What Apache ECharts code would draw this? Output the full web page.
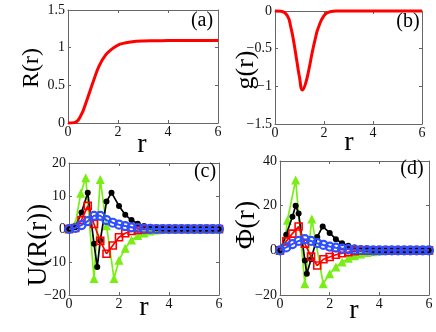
<!DOCTYPE html>
<html>
<head>
<meta charset="utf-8">
<script src="https://cdn.jsdelivr.net/npm/echarts@6/dist/echarts.min.js"></script>
<style>
  html, body { margin: 0; padding: 0; background: #fff; }
  #chart { width: 436px; height: 332px; }
</style>
</head>
<body>
<div id="chart"></div>
<script>
// r sampling used by the marker curves
const rGrid = [0, 0.25, 0.5, 0.75, 1, 1.25, 1.5, 1.75, 2, 2.25, 2.5, 2.75, 3,
  3.25, 3.5, 3.75, 4, 4.25, 4.5, 4.75, 5, 5.25, 5.5, 5.75, 6];

// (a) R(r)
const aR = [0, 0.25, 0.5, 0.75, 1, 1.25, 1.5, 1.75, 2, 2.25, 2.5, 3, 3.5, 4, 5, 6];
const aVal = [0, 0.005, 0.09, 0.3, 0.54, 0.76, 0.9, 0.98, 1.035, 1.06, 1.075, 1.088, 1.092, 1.094, 1.095, 1.095];

// (b) g(r)
const bR = [0, 0.25, 0.5, 0.65, 0.75, 0.9, 1, 1.12, 1.25, 1.4, 1.5, 1.65, 1.75, 2, 2.25, 2.5, 3, 4, 5, 6];
const bVal = [0, -0.003, -0.06, -0.22, -0.38, -0.68, -0.88, -1.05, -0.96, -0.75, -0.58, -0.36, -0.24, -0.06, -0.01, 0, 0, 0, 0, 0];

// (c) U(R(r))
const cBlackR = [0, 0.25, 0.5, 0.75, 1, 1.13, 1.25, 1.5, 1.7, 2, 2.25, 2.5, 2.75, 3, 3.25, 3.5, 3.75,
  4, 4.25, 4.5, 4.75, 5, 5.25, 5.5, 5.75, 6];
const cBlackVal = [0, 0.5, 5, 11, -4.5, -11.5, -3.5, 8.3, 11, 7, 4.3, 2.7, 1.6, 0.9, 0.5, 0.2, 0.1,
  0, 0, 0, 0, 0, 0, 0, 0, 0];
const cGreenR = [0, 0.25, 0.47, 0.67, 1, 1.25, 1.5, 1.8, 2, 2.25, 2.5, 2.75, 3, 3.25, 3.5, 3.75,
  4, 4.25, 4.5, 4.75, 5, 5.25, 5.5, 5.75, 6];
const cGreenVal = [0, 1.5, 10.8, 15.5, -15, 15, 1, -15, -9.5, -5.8, -3.3, -2, -1.2, -0.6, -0.3, -0.1,
  0, 0, 0, 0, 0, 0, 0, 0, 0];
const cRedVal = [0, 0.3, 2.7, 7, 1.5, -3.6, -7.5, -5, -2.5, -1.3, -0.6, -0.3, -0.1,
  0, 0, 0, 0, 0, 0, 0, 0, 0, 0, 0, 0];
const cBlueVal = [0, 0.3, 1.2, 2.4, 4, 4, 2.7, 1.9, 1.3, 0.9, 0.5, 0.3, 0.15,
  0.05, 0, 0, 0, 0, 0, 0, 0, 0, 0, 0, 0];

// (d) Phi(r)
const dBlackR = [0, 0.25, 0.5, 0.63, 0.75, 1, 1.08, 1.25, 1.5, 1.72, 2, 2.25, 2.5, 2.75, 3, 3.25, 3.5, 3.75,
  4, 4.25, 4.5, 4.75, 5, 5.25, 5.5, 5.75, 6];
const dBlackVal = [0, 7, 15, 20, 16.5, -4.5, -10.5, -4, 6, 10.7, 7.8, 5, 3.2, 2, 1.3, 0.8, 0.4, 0.2,
  0.1, 0, 0, 0, 0, 0, 0, 0, 0];
const dGreenR = [0, 0.2, 0.3, 0.63, 1, 1.28, 1.74, 2, 2.25, 2.5, 2.75, 3, 3.25, 3.5, 3.75,
  4, 4.25, 4.5, 4.75, 5, 5.25, 5.5, 5.75, 6];
const dGreenVal = [0, 4, 13.5, 31.5, -15, 14, -15, -10.5, -7.5, -5.2, -3.6, -2.4, -1.6, -1, -0.6,
  -0.3, -0.1, 0, 0, 0, 0, 0, 0, 0];
const dRedVal = [0, 4, 7.5, 10.7, 3, -2.8, -6.8, -4, -3, -2, -1.3, -0.8, -0.4,
  -0.2, -0.1, 0, 0, 0, 0, 0, 0, 0, 0, 0, 0];
const dBlueVal = [0, 1.3, 2.8, 4.2, 5, 4.2, 3.2, 2.4, 1.7, 1.2, 0.8, 0.5, 0.3,
  0.15, 0.05, 0, 0, 0, 0, 0, 0, 0, 0, 0, 0];

const RED = "#ff0000";
const GREEN = "#78ee14";
const BLUE = "#2f50ff";
const BLACK = "#000000";
const FRAME = "#666666";
const SERIF = "Liberation Serif";

function pairs(rs, vs) {
  return rs.map(function (r, i) { return [r, vs[i]]; });
}

function fmt(v) {
  return String(v).replace("-", "\u2212");
}

const grids = [
  { left: 68, top: 10, width: 150, height: 113 },
  { left: 275, top: 11, width: 147, height: 113 },
  { left: 69, top: 163, width: 150, height: 132 },
  { left: 280, top: 161, width: 149, height: 134 },
];
const yRanges = [
  [0, 1.5, 0.5],
  [-1.5, 0, 0.5],
  [-20, 20, 10],
  [-20, 40, 20],
];

const xAxes = [];
const yAxes = [];
grids.forEach(function (g, p) {
  ["bottom", "top"].forEach(function (pos) {
    xAxes.push({
      type: "value",
      gridIndex: p,
      position: pos,
      min: 0,
      max: 6,
      interval: 2,
      axisLine: { show: true, onZero: false, lineStyle: { color: FRAME, width: 1 } },
      axisTick: { show: true, inside: true, length: 3, lineStyle: { color: FRAME } },
      axisLabel: {
        show: pos === "bottom",
        margin: 2,
        fontFamily: SERIF,
        fontSize: 14,
        color: "#111",
        formatter: fmt,
      },
      splitLine: { show: false },
    });
  });
  ["left", "right"].forEach(function (pos) {
    const yr = yRanges[p];
    yAxes.push({
      type: "value",
      gridIndex: p,
      position: pos,
      min: yr[0],
      max: yr[1],
      interval: yr[2],
      axisLine: { show: true, onZero: false, lineStyle: { color: FRAME, width: 1 } },
      axisTick: { show: true, inside: true, length: 3, lineStyle: { color: FRAME } },
      axisLabel: {
        show: pos === "left",
        margin: 3,
        fontFamily: SERIF,
        fontSize: 14,
        color: "#111",
        formatter: fmt,
      },
      splitLine: { show: false },
    });
  });
});

function curve(p, data) {
  return {
    type: "line",
    xAxisIndex: 2 * p,
    yAxisIndex: 2 * p,
    data: data,
    smooth: true,
    showSymbol: false,
    clip: false,
    lineStyle: { color: RED, width: 3 },
    z: 3,
  };
}

function marked(p, data, color, symbol, size, filled, z) {
  return {
    type: "line",
    xAxisIndex: 2 * p,
    yAxisIndex: 2 * p,
    data: data,
    symbol: symbol,
    symbolSize: size,
    showAllSymbol: true,
    clip: false,
    lineStyle: { color: color, width: symbol === "circle" && !filled ? 2 : 1.7 },
    itemStyle: filled
      ? { color: color }
      : { color: "rgba(255,255,255,0)", borderColor: color, borderWidth: symbol === "circle" ? 2.2 : 1.6 },
    z: z,
  };
}

const series = [
  curve(0, pairs(aR, aVal)),
  curve(1, pairs(bR, bVal)),

  marked(2, pairs(cGreenR, cGreenVal), GREEN, "triangle", 9, true, 2),
  marked(2, pairs(cBlackR, cBlackVal), BLACK, "circle", 6, true, 3),
  marked(2, pairs(rGrid, cRedVal), RED, "rect", 7, false, 4),
  marked(2, pairs(rGrid, cBlueVal), BLUE, "circle", 8, false, 5),

  marked(3, pairs(dGreenR, dGreenVal), GREEN, "triangle", 9, true, 2),
  marked(3, pairs(dBlackR, dBlackVal), BLACK, "circle", 6, true, 3),
  marked(3, pairs(rGrid, dRedVal), RED, "rect", 7, false, 4),
  marked(3, pairs(rGrid, dBlueVal), BLUE, "circle", 8, false, 5),
];

function label(text, x, y, size, rotated) {
  return {
    type: "text",
    x: x,
    y: y,
    rotation: rotated ? Math.PI / 2 : 0,
    z: 10,
    style: {
      text: text,
      fontFamily: SERIF,
      fontSize: size,
      fill: "#000",
      align: "center",
      verticalAlign: "middle",
    },
  };
}

const graphics = [
  label("R(r)", 32, 68, 24, true),
  label("g(r)", 246, 70, 26, true),
  label("U(R(r))", 39, 245, 27, true),
  label("\u03A6(r)", 247, 225, 28, true),
  label("r", 142, 145, 28, false),
  label("r", 349, 143, 28, false),
  label("r", 144, 308, 28, false),
  label("r", 354, 311, 28, false),
  label("(a)", 202, 21, 20, false),
  label("(b)", 408, 22, 20, false),
  label("(c)", 205, 172, 20, false),
  label("(d)", 412, 169, 20, false),
];

const chart = echarts.init(document.getElementById("chart"), null, { renderer: "canvas" });
chart.setOption({
  animation: false,
  backgroundColor: "#ffffff",
  grid: grids,
  xAxis: xAxes,
  yAxis: yAxes,
  series: series,
  graphic: graphics,
});
</script>
</body>
</html>
